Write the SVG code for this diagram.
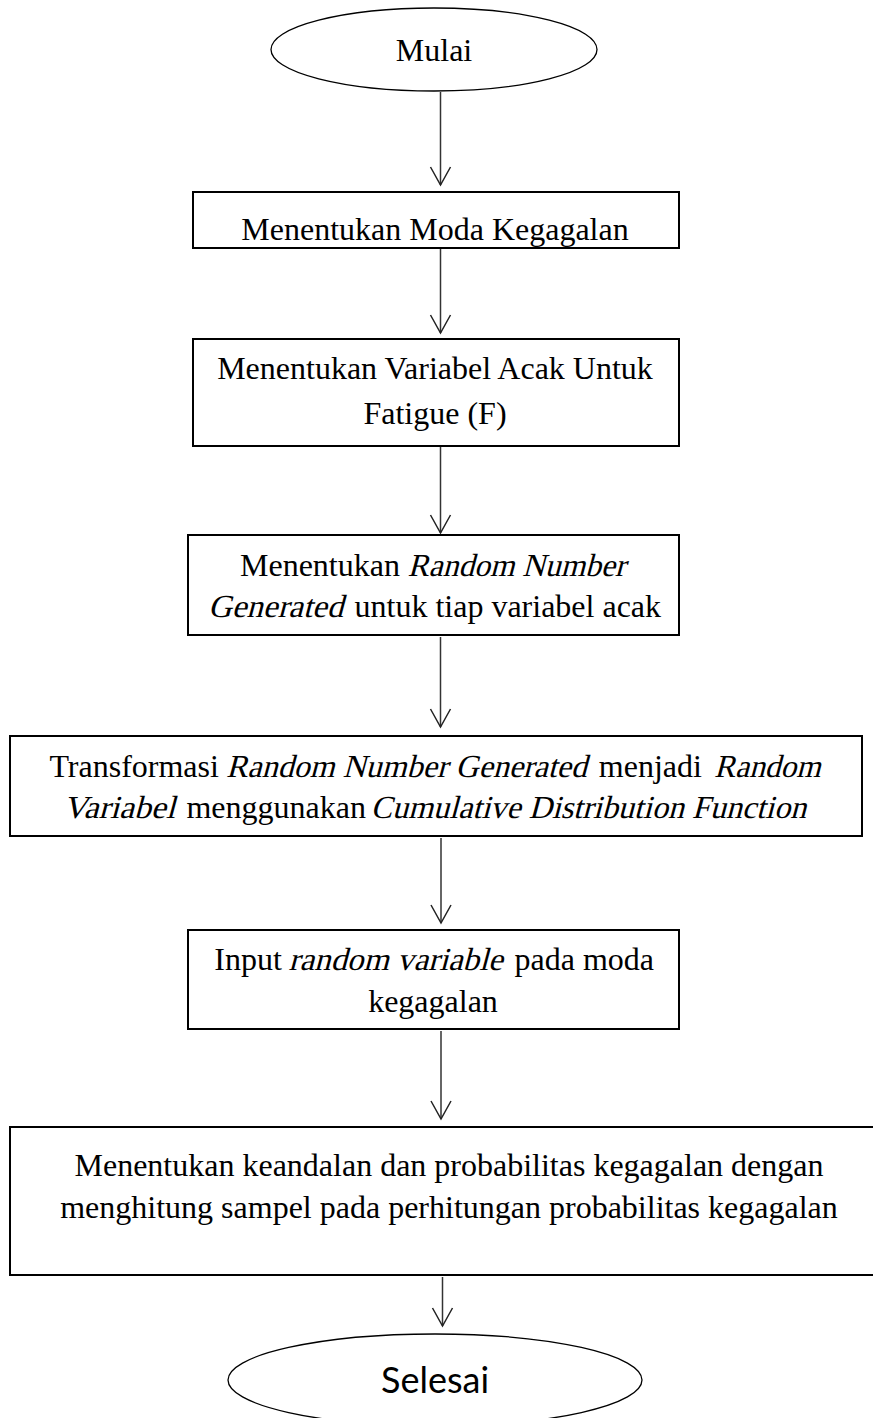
<svg xmlns="http://www.w3.org/2000/svg" width="873" height="1418" viewBox="0 0 873 1418">
<style>
.node{fill:#fff;stroke:#000;stroke-width:2}
.term{fill:#fff;stroke:#000;stroke-width:1.3}
.t{font-family:"Liberation Serif","Times New Roman",serif;font-size:32px;fill:#000;text-anchor:middle}
.l{font-family:"Liberation Serif","Times New Roman",serif;font-size:32px;fill:#000;text-anchor:start}
.s{font-family:Lato,"Open Sans",sans-serif;font-size:36px;fill:#000;text-anchor:middle}
.c{stroke:#333;stroke-width:1.5;fill:none;marker-end:url(#arr)}
</style>
<defs>
<marker id="arr" markerWidth="24" markerHeight="24" refX="20" refY="12" orient="auto" markerUnits="userSpaceOnUse">
<path d="M2,2 L20,12 L2,22" fill="none" stroke="#222" stroke-width="1.5"/>
</marker>
</defs>
<g id="connectors">
<line class="c" x1="440.5" y1="92" x2="440.5" y2="185"/>
<line class="c" x1="440.5" y1="249" x2="440.5" y2="333"/>
<line class="c" x1="440.5" y1="447" x2="440.5" y2="533"/>
<line class="c" x1="440.5" y1="637" x2="440.5" y2="727"/>
<line class="c" x1="441" y1="838" x2="441" y2="923"/>
<line class="c" x1="441" y1="1031" x2="441" y2="1119"/>
<line class="c" x1="442.5" y1="1277" x2="442.5" y2="1326"/>
</g>
<g id="mulai">
<ellipse class="term" cx="434" cy="49.5" rx="163" ry="41.5"/>
<text class="t" x="434" y="61">Mulai</text>
</g>
<g id="moda">
<rect class="node" x="193" y="192" width="486" height="56"/>
<text class="t" x="435" y="240">Menentukan Moda Kegagalan</text>
</g>
<g id="variabel">
<rect class="node" x="193" y="339" width="486" height="107"/>
<text class="t" x="435" y="379">Menentukan Variabel Acak Untuk</text>
<text class="t" x="435" y="424">Fatigue (F)</text>
</g>
<g id="rng">
<rect class="node" x="188" y="535" width="491" height="100"/>
<text class="l" x="240" y="576">Menentukan</text>
<text class="l" transform="translate(407.5,576) skewX(-15)" x="0" y="0" textLength="217.8" lengthAdjust="spacingAndGlyphs">Random Number</text>
<text class="l" transform="translate(208,617) skewX(-15)" x="0" y="0" textLength="135.1" lengthAdjust="spacingAndGlyphs">Generated</text>
<text class="l" x="354.5" y="617">untuk tiap variabel acak</text>
</g>
<g id="transformasi">
<rect class="node" x="10" y="736" width="852" height="100"/>
<text class="l" x="49.4" y="777">Transformasi</text>
<text class="l" transform="translate(226,777) skewX(-15)" x="0" y="0" textLength="360.8" lengthAdjust="spacingAndGlyphs">Random Number Generated</text>
<text class="l" x="598.8" y="777">menjadi</text>
<text class="l" transform="translate(713.9,777) skewX(-15)" x="0" y="0" textLength="106.7" lengthAdjust="spacingAndGlyphs">Random</text>
<text class="l" transform="translate(63,818) skewX(-15)" x="0" y="0" textLength="112" lengthAdjust="spacingAndGlyphs">Variabel</text>
<text class="l" x="186.4" y="818">menggunakan</text>
<text class="l" transform="translate(370.5,818) skewX(-15)" x="0" y="0" textLength="435.6" lengthAdjust="spacingAndGlyphs">Cumulative Distribution Function</text>
</g>
<g id="input">
<rect class="node" x="188" y="930" width="491" height="99"/>
<text class="l" x="214.3" y="970">Input</text>
<text class="l" transform="translate(288.5,970) skewX(-15)" x="0" y="0" textLength="214.2" lengthAdjust="spacingAndGlyphs">random variable</text>
<text class="l" x="514.5" y="970">pada moda</text>
<text class="t" x="433" y="1012">kegagalan</text>
</g>
<g id="keandalan">
<rect class="node" x="10" y="1127" width="880" height="148"/>
<text class="t" x="449" y="1176">Menentukan keandalan dan probabilitas kegagalan dengan</text>
<text class="t" x="449" y="1218">menghitung sampel pada perhitungan probabilitas kegagalan</text>
</g>
<g id="selesai">
<ellipse class="term" cx="435" cy="1380" rx="207" ry="46"/>
<text class="s" x="435" y="1393">Selesai</text>
</g>
</svg>
